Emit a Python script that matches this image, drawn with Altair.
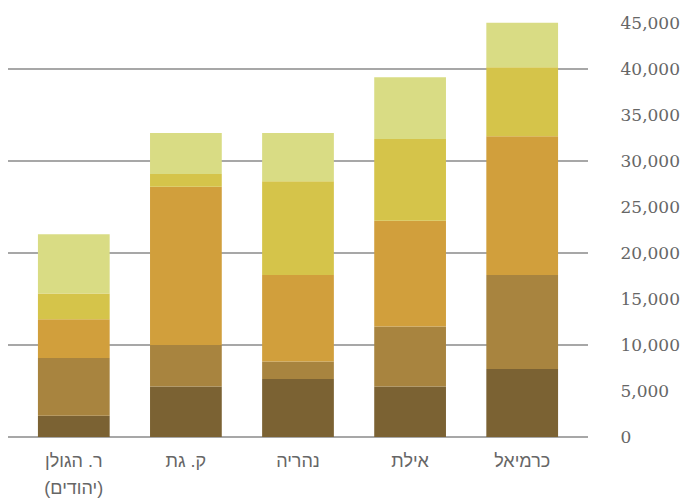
import altair as alt
import pandas as pd

categories = ["ר. הגולן\n(יהודים)", "ק. גת", "נהריה", "אילת", "כרמיאל"]
series_names = ["שכבה 1", "שכבה 2", "שכבה 3", "שכבה 4", "שכבה 5"]
s1 = [2300, 5500, 6300, 5500, 7400]
s2 = [6300, 4500, 1900, 6500, 10200]
s3 = [4200, 17200, 9400, 11500, 15100]
s4 = [2800, 1400, 10200, 8900, 7500]
s5 = [6450, 4450, 5250, 6700, 4830]
colors = ["#7b6233", "#a8843f", "#d19f3c", "#d5c44a", "#d9dc84"]
grid_values = [0, 10000, 20000, 30000, 40000]
tick_values = [0, 5000, 10000, 15000, 20000, 25000, 30000, 35000, 40000, 45000]

series = [s1, s2, s3, s4, s5]
rows = []
for si, (name, vals) in enumerate(zip(series_names, series)):
    for cat, v in zip(categories, vals):
        rows.append({"cat": cat, "series": name, "order": si, "value": v})
df = pd.DataFrame(rows)

grid_df = pd.DataFrame({"y": grid_values})

yscale = alt.Scale(domain=[0, 45000], nice=False)
yaxis = alt.Axis(
    orient="right",
    title=None,
    values=tick_values,
    format=",.0f",
    grid=False,
    domain=False,
    ticks=False,
    labelFont="DejaVu Serif",
    labelFontSize=17,
    labelColor="#666666",
    labelPadding=32,
)

rules = alt.Chart(grid_df).mark_rule(color="#8a8a8a", strokeWidth=1.6).encode(
    y=alt.Y("y:Q", scale=yscale, axis=yaxis)
)

bars = alt.Chart(df).mark_bar().encode(
    x=alt.X(
        "cat:N",
        sort=categories,
        scale=alt.Scale(paddingInner=0.36, paddingOuter=0.267),
        axis=alt.Axis(
            title=None,
            labelAngle=0,
            domain=False,
            ticks=False,
            labelFont="Liberation Sans",
            labelFontSize=18,
            labelColor="#666666",
            labelPadding=15,
            labelLineHeight=27,
            labelExpr="split(datum.label, '\\n')",
        ),
    ),
    y=alt.Y("value:Q", stack="zero", scale=yscale, axis=yaxis),
    color=alt.Color(
        "series:N",
        sort=series_names,
        scale=alt.Scale(domain=series_names, range=colors),
        legend=None,
    ),
    order=alt.Order("order:Q"),
)

chart = (
    alt.layer(rules, bars)
    .properties(
        width=580,
        height=414,
        autosize=alt.AutoSizeParams(type="none"),
        padding={"top": 15, "left": 0, "right": 93, "bottom": 62},
    )
    .configure_view(stroke=None)
)

chart.save("out.html", embed_options={"renderer": "svg", "actions": False})
